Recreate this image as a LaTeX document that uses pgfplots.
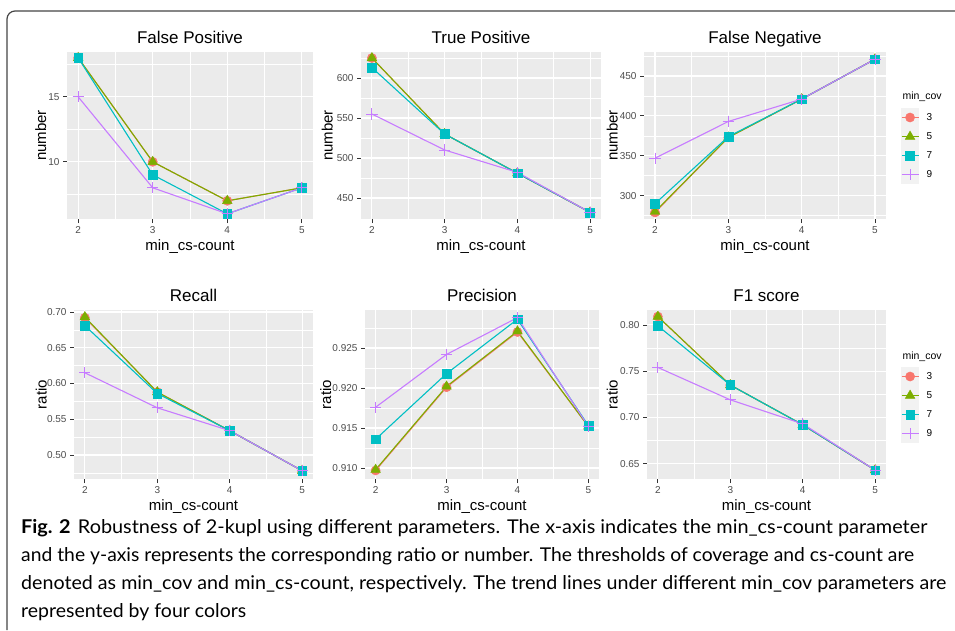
\documentclass[border=0pt]{standalone}
\usepackage{pgfplots}
\pgfplotsset{compat=1.18}
\usepackage{pgfplotstable}
\usepackage{graphicx}
\usepackage{fontspec}
\setmainfont{Liberation Sans}
\newfontfamily\capfont{Lato}

\definecolor{gray92}{HTML}{EBEBEB}
\definecolor{gray95}{HTML}{F2F2F2}
\definecolor{gray20}{HTML}{333333}
\definecolor{gray30}{HTML}{4D4D4D}
\definecolor{c3}{HTML}{F8766D}
\definecolor{c5}{HTML}{7CAE00}
\definecolor{c7}{HTML}{00BFC4}
\definecolor{c9}{HTML}{C77CFF}

\newcommand{\ticksize}{\fontsize{10}{12}\selectfont}
\newcommand{\labsize}{\fontsize{15}{18}\selectfont}
\newcommand{\titsize}{\fontsize{17}{20}\selectfont}

% columns: min_cs-count, then min_cov = 3, 5, 7, 9
\pgfplotstableread{
x a b c d
2 18 18 18 15
3 10 10 9 8
4 7 7 6 6
5 8 8 8 8
}\tFP
\pgfplotstableread{
x a b c d
2 625 625 613 555
3 530 530 530 510
4 481 481 481 482
5 432 432 432 432
}\tTP
\pgfplotstableread{
x a b c d
2 279 280 290 347
3 373 373 374 393
4 421 421 421 421
5 471 471 471 471
}\tFN
\pgfplotstableread{
x a b c d
2 0.692 0.693 0.681 0.615
3 0.588 0.588 0.586 0.566
4 0.534 0.534 0.534 0.534
5 0.478 0.478 0.478 0.478
}\tRE
\pgfplotstableread{
x a b c d
2 0.9097 0.9098 0.9136 0.9176
3 0.9201 0.9202 0.9218 0.9242
4 0.9270 0.9271 0.9286 0.9288
5 0.9152 0.9152 0.9153 0.9152
}\tPR
\pgfplotstableread{
x a b c d
2 0.809 0.809 0.799 0.754
3 0.735 0.735 0.735 0.719
4 0.692 0.692 0.692 0.693
5 0.643 0.643 0.643 0.643
}\tFO

\pgfplotsset{
  m3/.style={c3, mark=*, mark size=4.6pt, mark options={line width=0.4pt}},
  m5/.style={c5, mark=triangle*, mark size=5.6pt, mark options={line width=0.4pt}},
  m7/.style={c7, mark=square*, mark size=4.4pt, mark options={line width=0.4pt}},
  m9/.style={c9, mark=+, mark size=5.6pt, mark options={line width=0.9pt}},
  panel/.style={
    scale only axis, anchor=south west,
    xmin=1.85, xmax=5.15,
    xtick={2,3,4,5}, xticklabels={2,3,4,5},
    minor xtick={2.5,3.5,4.5},
    axis background/.style={fill=gray92},
    axis line style={draw=none},
    grid=both,
    major grid style={white, line width=1.1pt},
    minor grid style={white, line width=0.55pt},
    tick align=outside, major tick length=4pt, minor tick length=0pt,
    tick style={gray20, line width=0.8pt},
    tick pos=left,
    ticklabel style={font=\ticksize, text=gray30},
    every axis title/.style={at={(0.5,1)}, anchor=base, yshift=9pt, font=\titsize},
    every axis x label/.style={at={(0.5,0)}, anchor=base, yshift=-31pt, font=\labsize},
    every axis y label/.style={anchor=base, rotate=90, font=\labsize},
    xlabel={min\_cs-count},
    legend image code/.code={
      \fill[gray95] (0pt,-9pt) rectangle (17pt,9pt);
      \path[draw=none, fill=none] (0pt,-9pt) rectangle (25pt,9pt);
      \draw[line width=1.1pt, mark repeat=2, mark phase=2]
        plot coordinates {(0pt,0pt) (8.5pt,0pt) (17pt,0pt)};
    },
  },
  keys/.style={
    legend style={at={(axis description cs:#1)}, anchor=north west,
      draw=none, fill=none, inner sep=0pt, outer sep=0pt, row sep=0pt,
      cells={anchor=west}, font=\ticksize, nodes={inner sep=0pt}},
  },
}

\newcommand{\series}[1]{%
  \addplot[forget plot, c3, line width=1.1pt] table[x=x,y=a] {#1};
  \addplot[forget plot, c5, line width=1.1pt] table[x=x,y=b] {#1};
  \addplot[forget plot, c7, line width=1.1pt] table[x=x,y=c] {#1};
  \addplot[forget plot, c9, line width=1.1pt] table[x=x,y=d] {#1};
  \addplot[forget plot, only marks, m3] table[x=x,y=a] {#1};
  \addplot[forget plot, only marks, m5] table[x=x,y=b] {#1};
  \addplot[forget plot, only marks, m7] table[x=x,y=c] {#1};
  \addplot[forget plot, only marks, m9] table[x=x,y=d] {#1};
}
\newcommand{\keyimages}{%
  \addlegendimage{m3, line width=1.1pt}
  \addlegendimage{m5, line width=1.1pt}
  \addlegendimage{m7, line width=1.1pt}
  \addlegendimage{m9, line width=1.1pt}
}

\begin{document}
\begin{tikzpicture}
\path[use as bounding box] (0pt,0pt) rectangle (955pt,-630pt);
\fill[white] (0pt,0pt) rectangle (955pt,-630pt);
\draw[gray!55!black, line width=1.2pt]
  (7pt,-630pt) -- (7pt,-19pt) arc[start angle=180, end angle=90, radius=8pt] -- (955pt,-11pt);

% top row
\begin{axis}[panel, at={(67pt,-219pt)}, width=246pt, height=167pt,
  title={False Positive}, ylabel={number},
  ylabel style={at={(axis description cs:-0.085,0.5)}},
  ymin=5.6, ymax=18.45, ytick={10,15}, yticklabels={10,15},
  minor ytick={7.5,12.5,17.5}]
  \series{\tFP}
\end{axis}

\begin{axis}[panel, at={(361pt,-219pt)}, width=240pt, height=167pt,
  title={True Positive}, ylabel={number},
  ylabel style={at={(axis description cs:-0.118,0.5)}},
  ymin=423.7, ymax=632.5, ytick={450,500,550,600}, yticklabels={450,500,550,600},
  minor ytick={475,525,575,625}]
  \series{\tTP}
\end{axis}

\begin{axis}[panel, at={(644pt,-219pt)}, width=242pt, height=167pt,
  title={False Negative}, ylabel={number},
  ylabel style={at={(axis description cs:-0.109,0.5)}},
  ymin=270.8, ymax=480, ytick={300,350,400,450}, yticklabels={300,350,400,450},
  minor ytick={275,325,375,425,475},
  keys={1.062,0.665}, legend entries={3,5,7,9}]
  \series{\tFN}
  \keyimages
\end{axis}
\node[anchor=west, font=\fontsize{10.5}{12}\selectfont] at (899pt,-97pt) {min\_cov};

% bottom row
\begin{axis}[panel, at={(74pt,-479pt)}, width=239pt, height=169pt,
  title={Recall}, ylabel={ratio},
  ylabel style={at={(axis description cs:-0.115,0.5)}},
  ymin=0.4664, ymax=0.7028, ytick={0.5,0.55,0.6,0.65,0.7},
  yticklabels={0.50,0.55,0.60,0.65,0.70},
  minor ytick={0.475,0.525,0.575,0.625,0.675}]
  \series{\tRE}
\end{axis}

\begin{axis}[panel, at={(365pt,-479pt)}, width=234pt, height=169pt,
  title={Precision}, ylabel={ratio},
  ylabel style={at={(axis description cs:-0.145,0.5)}},
  ymin=0.90863, ymax=0.92975, ytick={0.91,0.915,0.92,0.925},
  yticklabels={0.910,0.915,0.920,0.925},
  minor ytick={0.9125,0.9175,0.9225,0.9275}]
  \series{\tPR}
\end{axis}

\begin{axis}[panel, at={(647pt,-479pt)}, width=239pt, height=169pt,
  title={F1 score}, ylabel={ratio},
  ylabel style={at={(axis description cs:-0.123,0.5)}},
  ymin=0.6334, ymax=0.8161, ytick={0.65,0.7,0.75,0.8},
  yticklabels={0.65,0.70,0.75,0.80},
  minor ytick={0.675,0.725,0.775},
  keys={1.063,0.663}, legend entries={3,5,7,9}]
  \series{\tFO}
  \keyimages
\end{axis}
\node[anchor=west, font=\fontsize{10.5}{12}\selectfont] at (899pt,-357pt) {min\_cov};

% caption
\begin{scope}[every node/.style={anchor=base west, inner sep=0pt, font=\capfont\fontsize{19}{22}\selectfont}]
\node at (21pt,-533pt) {\resizebox{906pt}{\height}{{\bfseries Fig. 2}\hspace{7pt}Robustness of 2-kupl using different parameters. The x-axis indicates the min\_cs-count parameter}};
\node at (21pt,-561pt) {\resizebox{893pt}{\height}{and the y-axis represents the corresponding ratio or number. The thresholds of coverage and cs-count are}};
\node at (21pt,-589pt) {\resizebox{925pt}{\height}{denoted as min\_cov and min\_cs-count, respectively. The trend lines under different min\_cov parameters are}};
\node at (21pt,-617pt) {\resizebox{225pt}{\height}{represented by four colors}};
\end{scope}
\end{tikzpicture}
\end{document}
